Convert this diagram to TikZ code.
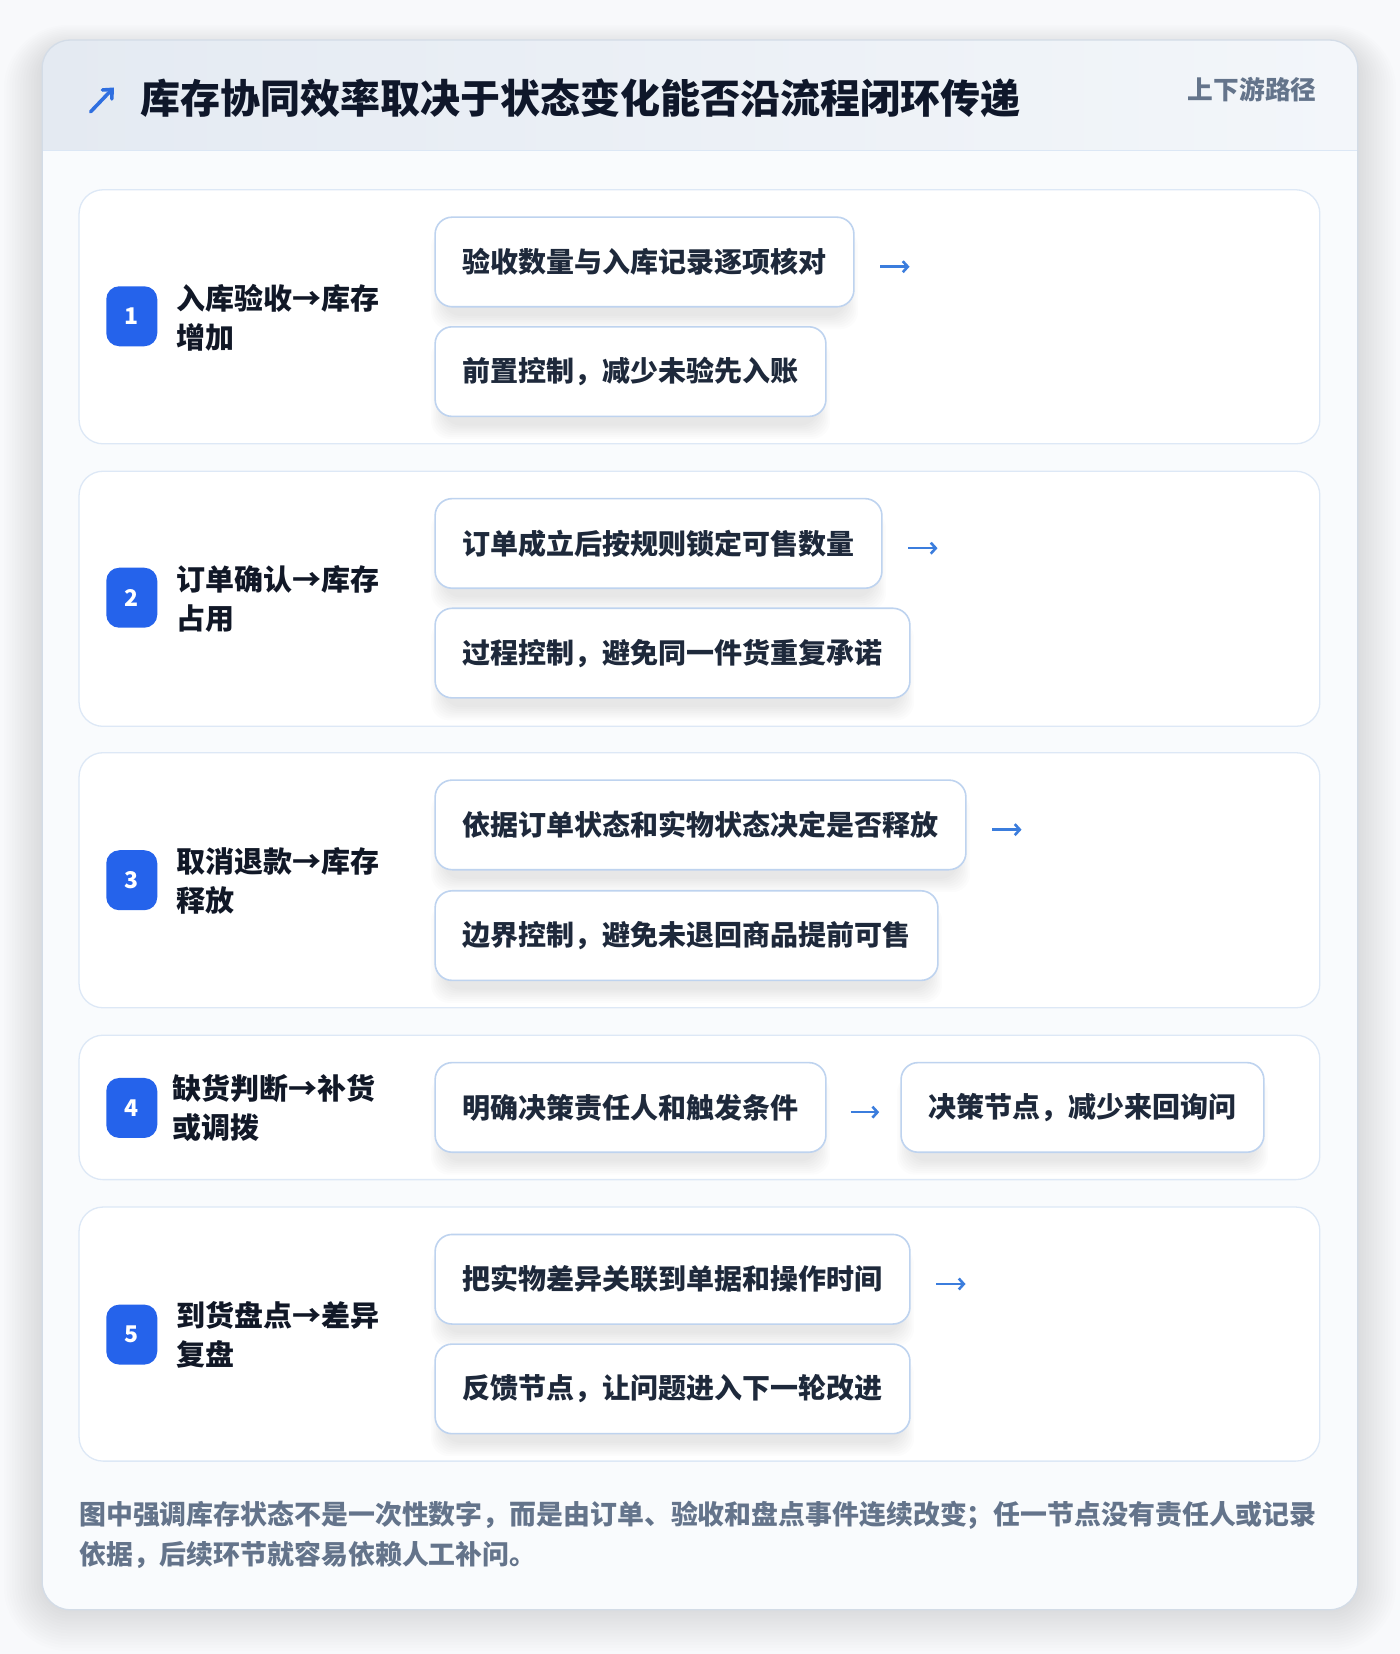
\documentclass[tikz,border=0pt]{standalone}
\usepackage{fontspec}
\setmainfont{Noto Sans CJK SC}
\usetikzlibrary{arrows.meta,calc}
\definecolor{pagebg}{HTML}{F8F9FB}
\definecolor{cardbg}{HTML}{F9FBFD}
\definecolor{cardline}{HTML}{D3DCE7}
\definecolor{headL}{HTML}{E4EAF2}
\definecolor{headR}{HTML}{F3F6FA}
\definecolor{headline}{HTML}{DCE7F5}
\definecolor{rowline}{HTML}{DDE8F6}
\definecolor{boxline}{HTML}{BED3EF}
\definecolor{badgeblue}{HTML}{2563EB}
\definecolor{titlec}{HTML}{0F172A}
\definecolor{lblc}{HTML}{111827}
\definecolor{boxtext}{HTML}{1E293B}
\definecolor{mutedc}{HTML}{64748B}
\definecolor{flowc}{HTML}{3B7DDD}
\definecolor{iconc}{HTML}{2F6FE0}
\pgfdeclarelayer{base}
\pgfdeclarelayer{shad}
\pgfsetlayers{base,shad,main}
\tikzset{
  rowcard/.style={draw=rowline, line width=1.3pt, fill=white, rounded corners=24pt},
  stepbox/.style={draw=boxline, line width=1.6pt, fill=white, rounded corners=17pt, anchor=west, minimum height=89.6pt, inner xsep=27.4pt, inner ysep=0pt, text=boxtext, font=\bfseries\fontsize{28}{32}\selectfont},
  badge/.style={fill=badgeblue, rounded corners=13pt, minimum width=51pt, minimum height=60pt, inner sep=0pt, text=white, font=\bfseries\fontsize{23}{25}\selectfont},
  lbl/.style={anchor=west, align=left, text=lblc, inner sep=0pt, font=\bfseries\fontsize{29}{39}\selectfont},
  flow/.style={draw=flowc, line width=2.6pt, -{Straight Barb[length=5pt,width=11pt]}},
}
\newcommand{\myshadow}[1]{%
  \foreach \k in {0,...,7}{%
    \fill[black,opacity=0.011,rounded corners=18pt] ($(#1.south west)+(8-\k*1.6,8+\k*1.8)$) rectangle ($(#1.north east)+(-8+\k*1.6,12)$);
  }%
}
\begin{document}
\begin{tikzpicture}[x=1.0542pt,y=-1.0542pt]
\useasboundingbox (0,0) rectangle (1328,1569);
\begin{pgfonlayer}{base}
\fill[pagebg] (0,0) rectangle (1328,1569);
\foreach \k in {1,...,14}{%
  \fill[black,opacity=0.007,rounded corners={28pt+\k*2.6pt}] (40-\k*2.6,46-\k*1.6) rectangle (1288+\k*2.6,1527+\k*2.8);
}
\fill[cardbg,rounded corners=28pt] (40,38) rectangle (1288,1527);
\begin{scope}
\clip[rounded corners=28pt] (40,38) rectangle (1288,1527);
\shade[left color=headL,right color=headR] (40,38) rectangle (1288,143);
\end{scope}
\draw[headline,line width=1.3pt] (40,143) -- (1288,143);
\draw[cardline,line width=1.3pt,rounded corners=28pt] (40,38) rectangle (1288,1527);
\path[rowcard] (75,180) rectangle (1252,421);
\path[rowcard] (75,447) rectangle (1252,689);
\path[rowcard] (75,714) rectangle (1252,956);
\path[rowcard] (75,982) rectangle (1252,1119);
\path[rowcard] (75,1145) rectangle (1252,1386);
\end{pgfonlayer}

% header
\coordinate (icA) at (86,106);
\coordinate (icB) at (108,83);
\draw[iconc,line width=3.6pt,line cap=round,-{Straight Barb[length=7pt,width=13pt,line cap=round]}] (icA) -- (icB);
\node[anchor=west,text=titlec,inner sep=0pt,font=\bfseries\fontsize{40}{44}\selectfont] (title) at (133,93) {库存协同效率取决于状态变化能否沿流程闭环传递};
\node[anchor=east,text=mutedc,inner sep=0pt,font=\bfseries\fontsize{25.7}{28}\selectfont] (tag) at (1249,85) {上下游路径};

% row 1
\node[badge] (n1) at (125,300) {1};
\node[lbl] (l1) at (167,301.5) {入库验收→库存\\增加};
\node[stepbox] (b11) at (412,248.5) {验收数量与入库记录逐项核对};
\node[stepbox] (b12) at (412,352.5) {前置控制，减少未验先入账};
\draw[flow] ($(b11.east)+(24,4.5)$) -- ($(b11.east)+(52,4.5)$);

% row 2
\node[badge] (n2) at (125,567) {2};
\node[lbl] (l2) at (167,568.5) {订单确认→库存\\占用};
\node[stepbox] (b21) at (412,515.5) {订单成立后按规则锁定可售数量};
\node[stepbox] (b22) at (412,619.5) {过程控制，避免同一件货重复承诺};
\draw[flow] ($(b21.east)+(24,4.5)$) -- ($(b21.east)+(52,4.5)$);

% row 3
\node[badge] (n3) at (125,835) {3};
\node[lbl] (l3) at (167,835.5) {取消退款→库存\\释放};
\node[stepbox] (b31) at (412,782.5) {依据订单状态和实物状态决定是否释放};
\node[stepbox] (b32) at (412,887.5) {边界控制，避免未退回商品提前可售};
\draw[flow] ($(b31.east)+(24,4.5)$) -- ($(b31.east)+(52,4.5)$);

% row 4
\node[badge] (n4) at (125,1051) {4};
\node[lbl] (l4) at (163,1051.5) {缺货判断→补货\\或调拨};
\node[stepbox] (b41) at (412,1050.5) {明确决策责任人和触发条件};
\node[stepbox] (b42) at (854,1050.5) {决策节点，减少来回询问};
\draw[flow] ($(b41.east)+(23,4.5)$) -- ($(b42.west)+(-20,4.5)$);

% row 5
\node[badge] (n5) at (125,1266) {5};
\node[lbl] (l5) at (167,1266.5) {到货盘点→差异\\复盘};
\node[stepbox] (b51) at (412,1213.5) {把实物差异关联到单据和操作时间};
\node[stepbox] (b52) at (412,1317.5) {反馈节点，让问题进入下一轮改进};
\draw[flow] ($(b51.east)+(24,4.5)$) -- ($(b51.east)+(52,4.5)$);

% footer
\node[anchor=west,align=left,text=mutedc,inner sep=0pt,font=\bfseries\fontsize{26.9}{40}\selectfont] (foot) at (75,1456) {图中强调库存状态不是一次性数字，而是由订单、验收和盘点事件连续改变；任一节点没有责任人或记录\\依据，后续环节就容易依赖人工补问。};

\begin{pgfonlayer}{shad}
\myshadow{b11}\myshadow{b12}
\myshadow{b21}\myshadow{b22}
\myshadow{b31}\myshadow{b32}
\myshadow{b41}\myshadow{b42}
\myshadow{b51}\myshadow{b52}
\end{pgfonlayer}
\end{tikzpicture}
\end{document}
